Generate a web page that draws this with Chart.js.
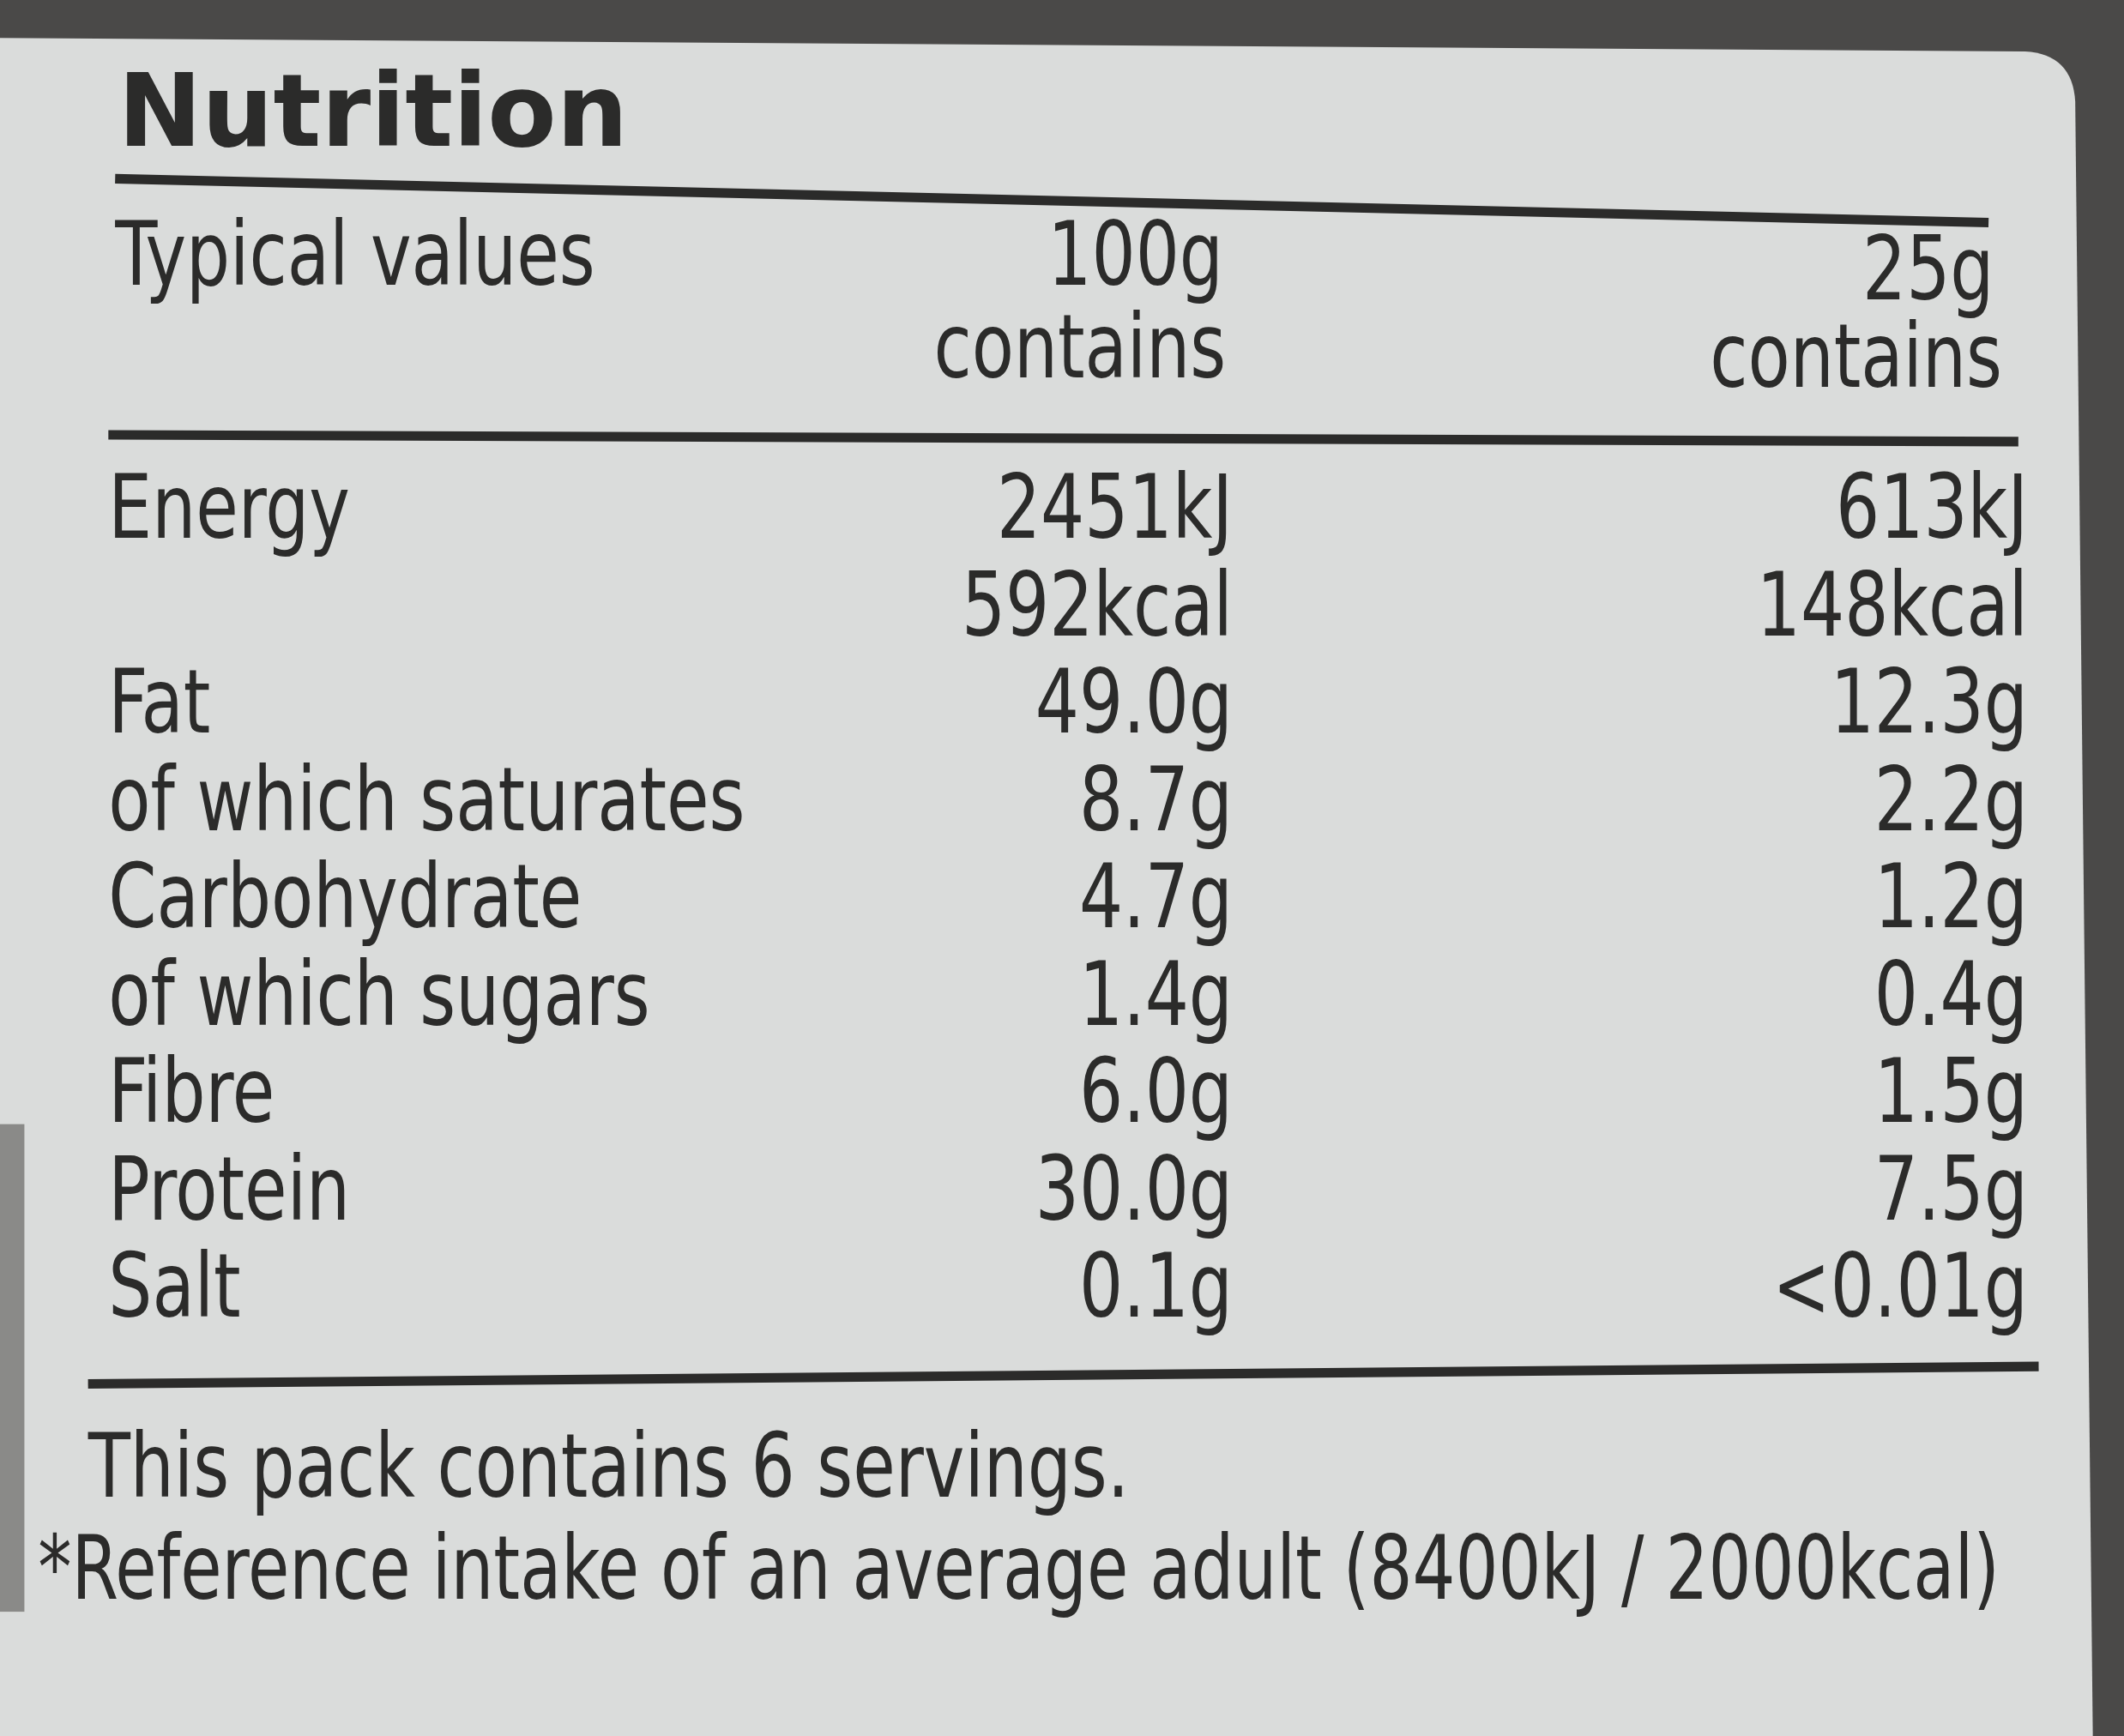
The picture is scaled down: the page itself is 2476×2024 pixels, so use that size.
<!DOCTYPE html>
<html><head><meta charset="utf-8">
<script src="https://cdn.jsdelivr.net/npm/chart.js@4/dist/chart.umd.min.js"></script>
<style>html,body{margin:0;padding:0;background:#4a4948}#wrap{width:2476px;height:2024px}</style>
</head><body><div id="wrap"><canvas id="c"></canvas></div>
<script>
const title = "Nutrition";
const headerLabel = "Typical values";
const columnHeaders = [["100g","contains"],["25g","contains"]];
const nutrients = ["Energy","","Fat","of which saturates","Carbohydrate","of which sugars","Fibre","Protein","Salt"];
const per100g = ["2451kJ","592kcal","49.0g","8.7g","4.7g","1.4g","6.0g","30.0g","0.1g"];
const per25g = ["613kJ","148kcal","12.3g","2.2g","1.2g","0.4g","1.5g","7.5g","<0.01g"];
const footnotes = ["This pack contains 6 servings.","*Reference intake of an average adult (8400kJ / 2000kcal)"];

const S = 2476/1568;
const FONT = "'Liberation Sans Narrow','DejaVu Sans Condensed','Liberation Sans',sans-serif";
const INK = "#2b2b2a";
const COL_LABEL = 80, COL_A = 910, COL_B = 1497;
const SQUEEZE = 0.86;

function mk(vals, x){ return vals.map((v,i)=>({x:x, y:i, t:v})); }

function txt(ctx, s, px, py, align, sx){
  ctx.save();
  ctx.translate(px, py); ctx.scale(sx, 1);
  ctx.textAlign = align; ctx.fillText(s, 0, 0);
  ctx.restore();
}

const tablePlugin = {
  id:'table',
  beforeDraw(chart){
    const ctx = chart.ctx;
    ctx.save();
    ctx.fillStyle = "#4a4948"; ctx.fillRect(0,0,chart.width,chart.height);
    ctx.fillStyle = "#dadcdb";
    ctx.beginPath();
    ctx.moveTo(0,28*S); ctx.lineTo(1495*S,38*S); ctx.quadraticCurveTo(1530*S,40*S,1532*S,75*S);
    ctx.lineTo(1545*S,1282*S); ctx.lineTo(0,1282*S); ctx.closePath(); ctx.fill();
    ctx.fillStyle = "#8a8a88"; ctx.fillRect(0,830*S,18*S,360*S);
    ctx.restore();
  },
  afterDatasetsDraw(chart){
    const ctx = chart.ctx, y = chart.scales.y, x = chart.scales.x;
    ctx.save();
    ctx.fillStyle = INK; ctx.textBaseline = "middle";
    ctx.font = "bold "+Math.round(74*S)+"px 'DejaVu Sans','Liberation Sans',sans-serif";
    txt(ctx, title, x.getPixelForValue(87), y.getPixelForValue(-4.06), "left", 1.0);
    ctx.font = Math.round(66*S)+"px "+FONT;
    txt(ctx, headerLabel, x.getPixelForValue(85), y.getPixelForValue(-2.6), "left", SQUEEZE);
    txt(ctx, columnHeaders[0][0], x.getPixelForValue(903), y.getPixelForValue(-2.6), "right", SQUEEZE);
    txt(ctx, columnHeaders[0][1], x.getPixelForValue(905), y.getPixelForValue(-1.65), "right", SQUEEZE);
    txt(ctx, columnHeaders[1][0], x.getPixelForValue(1472), y.getPixelForValue(-2.45), "right", SQUEEZE);
    txt(ctx, columnHeaders[1][1], x.getPixelForValue(1478), y.getPixelForValue(-1.55), "right", SQUEEZE);
    ctx.strokeStyle = INK; ctx.lineWidth = 7*S;
    const rule=(x1,v1,x2,v2)=>{ctx.beginPath();ctx.moveTo(x.getPixelForValue(x1),y.getPixelForValue(v1));ctx.lineTo(x.getPixelForValue(x2),y.getPixelForValue(v2));ctx.stroke();};
    rule(85,-3.45,1468,-3.0);
    rule(80,-0.82,1490,-0.75);
    rule(65,8.93,1505,8.75);
    chart.data.datasets.forEach((ds,di)=>{
      const meta = chart.getDatasetMeta(di);
      meta.data.forEach((el,i)=>{ txt(ctx, ds.data[i].t, el.x, el.y, di===0?"left":"right", SQUEEZE); });
    });
    txt(ctx, footnotes[0], x.getPixelForValue(65), y.getPixelForValue(9.85), "left", SQUEEZE);
    txt(ctx, footnotes[1], x.getPixelForValue(28), y.getPixelForValue(10.9), "left", 0.84);
    ctx.restore();
  }
};

new Chart(document.getElementById('c'), {
  type:'scatter',
  data:{datasets:[
    {data:mk(nutrients,COL_LABEL), pointRadius:0},
    {data:mk(per100g,COL_A), pointRadius:0},
    {data:mk(per25g,COL_B), pointRadius:0}
  ]},
  options:{
    responsive:true, maintainAspectRatio:false, animation:false,
    layout:{padding:0},
    plugins:{legend:{display:false}, tooltip:{enabled:false}},
    scales:{
      x:{type:'linear', min:0, max:1568, display:false},
      y:{type:'linear', min:-5.286, max:12.546, reverse:true, display:false}
    }
  },
  plugins:[tablePlugin]
});
</script></body></html>
